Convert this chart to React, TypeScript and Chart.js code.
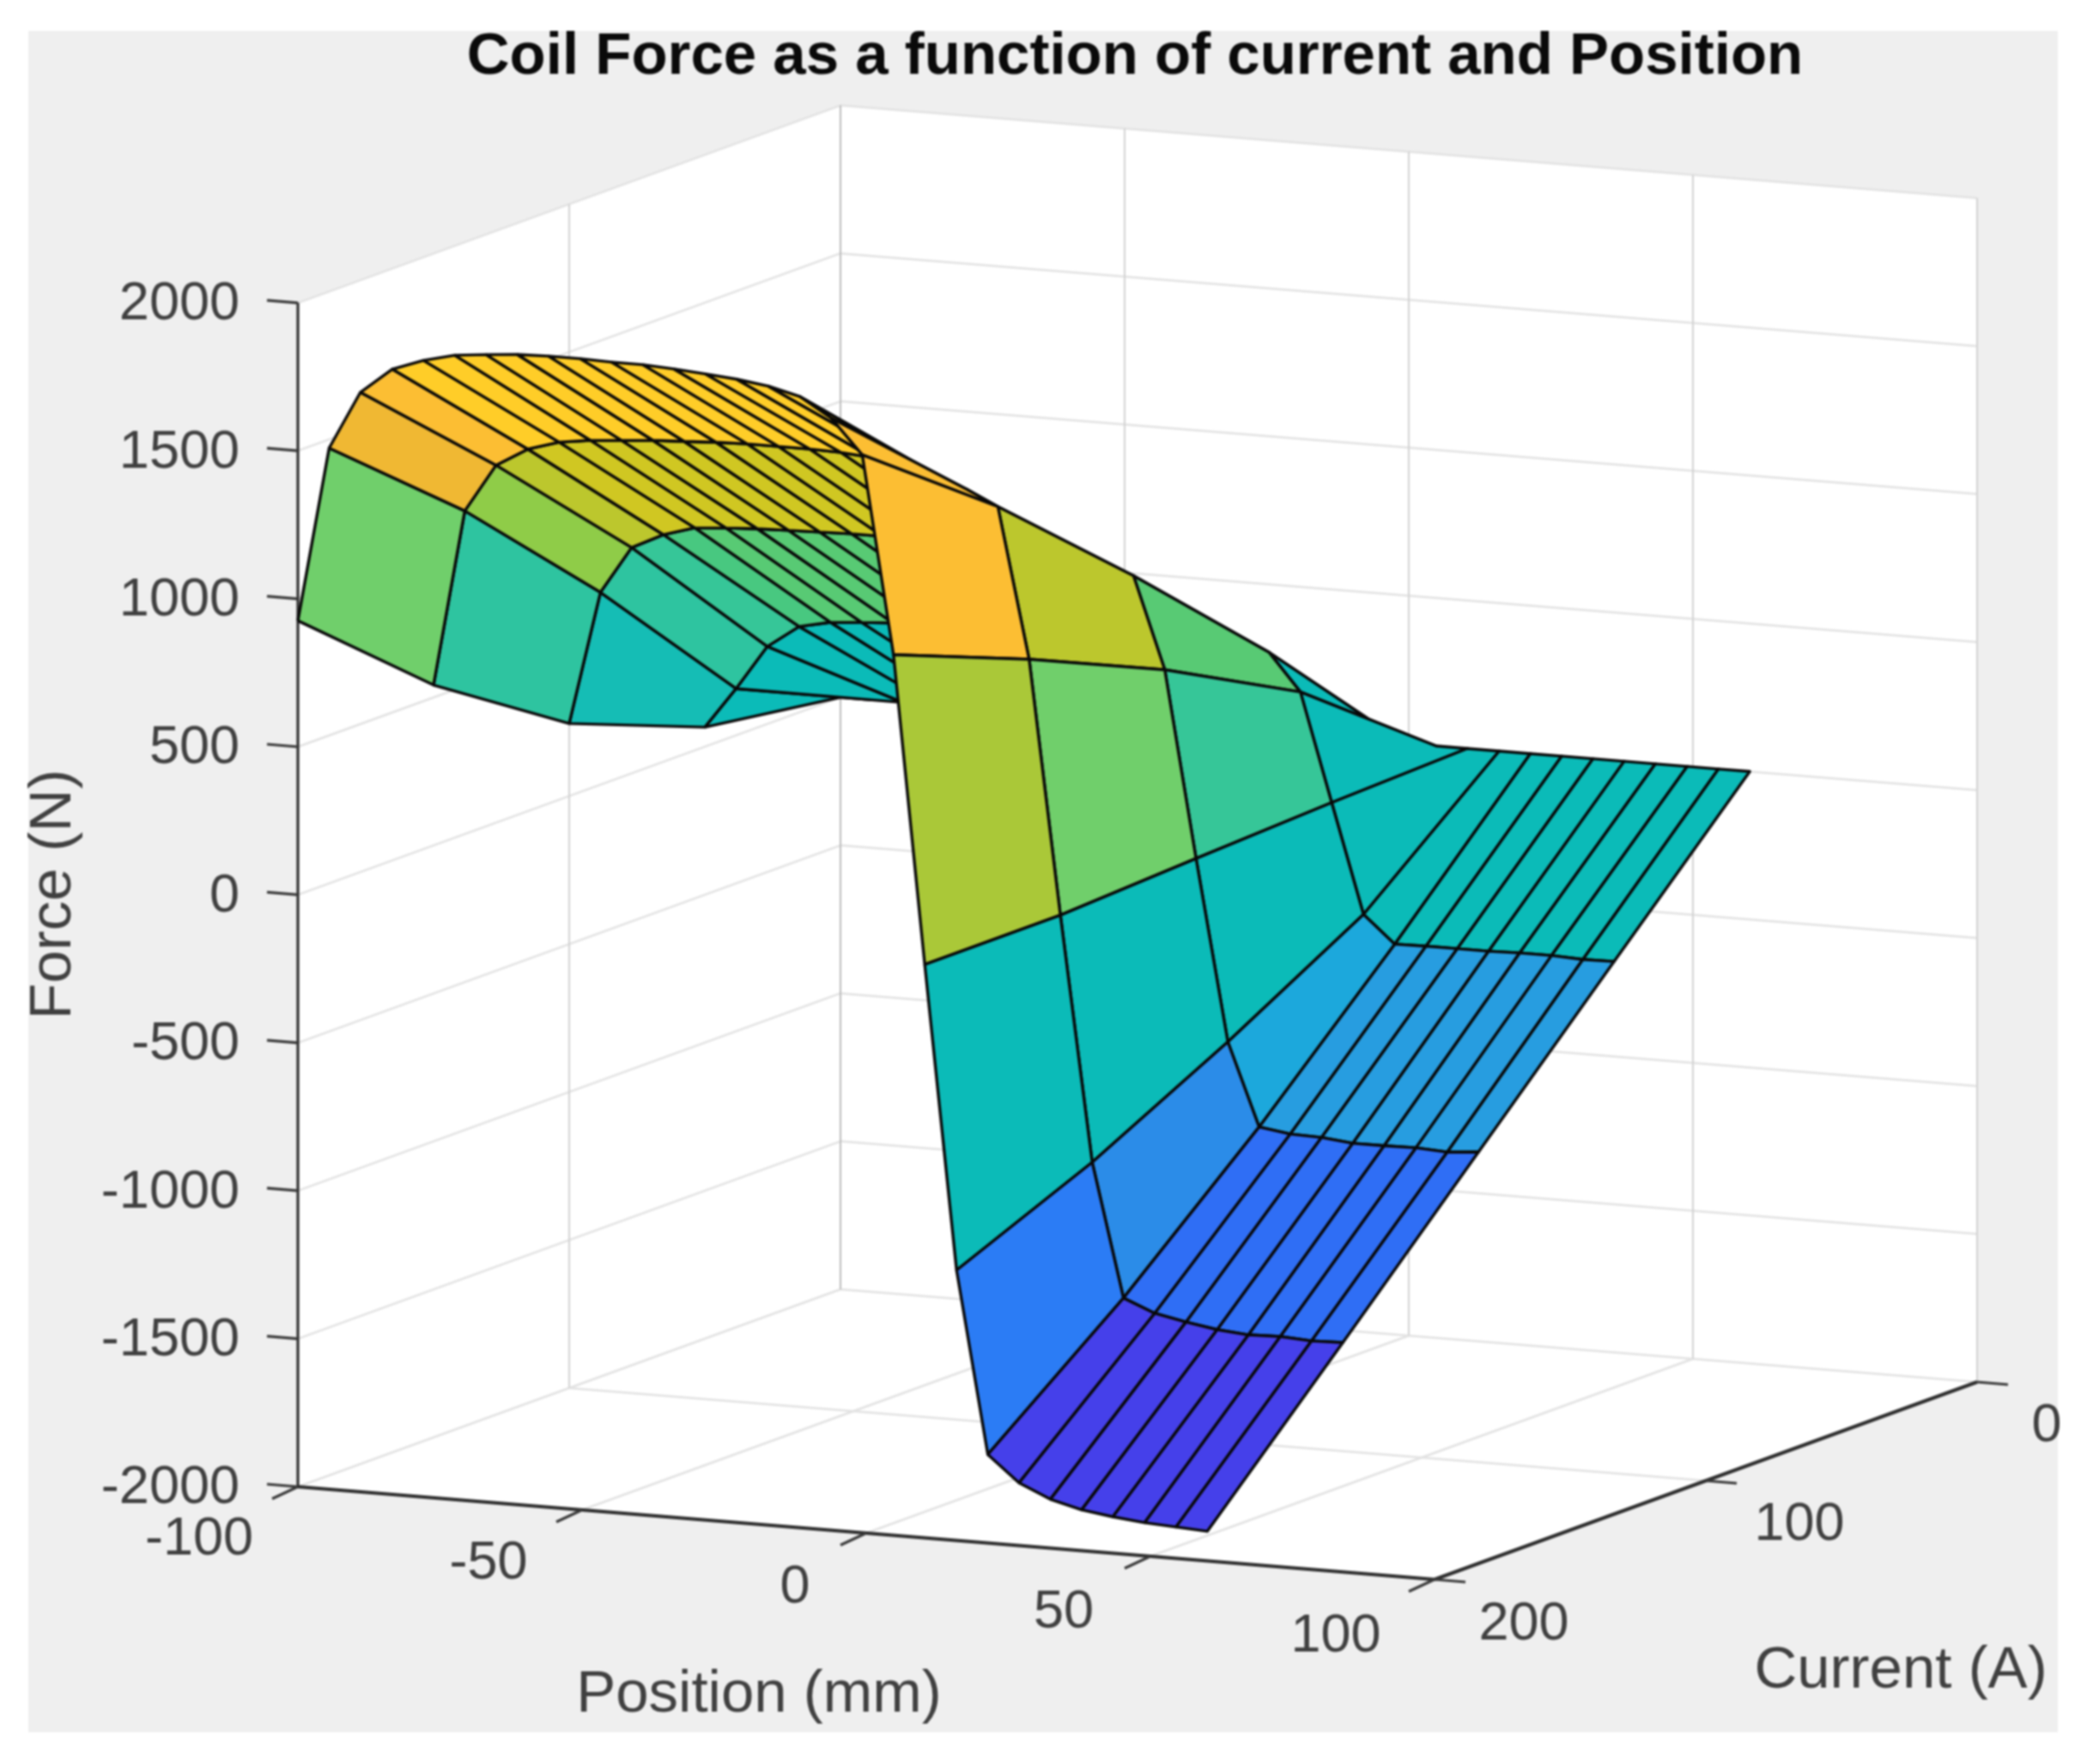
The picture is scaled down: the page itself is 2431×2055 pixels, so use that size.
import React, { useEffect, useRef } from "react";
import { Chart, registerables } from "chart.js";

Chart.register(...registerables);

const titleText = "Coil Force as a function of current and Position";
const positionLabel = "Position (mm)";
const currentLabel = "Current (A)";
const forceLabel = "Force (N)";

const positionTicks = [-100, -50, 0, 50, 100];
const currentTicks = [200, 100, 0];
const forceTicks = [2000, 1500, 1000, 500, 0, -500, -1000, -1500, -2000];

const positions = [
  -100, -94.5, -89, -83.4, -77.9, -72.4, -66.9, -61.4, -55.9, -50.3, -44.8, -39.3, -33.8, -28.3, -22.8,
  -17.2, -11.7, -6.2, -0.7, 4.8, 10.3, 15.9, 21.4, 26.9, 32.4, 37.9, 43.4, 49, 54.5, 60,
];
const currents = [200, 150, 100, 50, 0];

const forceAt200 = [
  926, 1518, 1715, 1802, 1840, 1866, 1877, 1886, 1889, 1889, 1886, 1886, 1880, 1872, 1863,
  1848, 1822, 1758, 1642, 975, -63, -1087, -1701, -1788, -1835, -1862, -1877, -1888, -1894, -1900,
];
const forceAt150 = [
  542, 1139, 1302, 1365, 1397, 1412, 1420, 1429, 1434, 1440, 1443, 1443, 1443, 1440, 1431,
  1419, 1393, 1350, 1300, 793, -63, -889, -1339, -1382, -1403, -1420, -1429, -1426, -1432, -1429,
];
const forceAt100 = [
  245, 697, 857, 909, 941, 949, 955, 958, 961, 964, 964, 964, 964, 960, 955,
  950, 940, 925, 900, 591, -38, -649, -928, -943, -946, -957, -957, -955, -961, -952,
];
const forceAt50 = [
  66, 205, 356, 432, 455, 463, 470, 475, 478, 480, 480, 480, 480, 480, 480,
  480, 480, 478, 474, 349, -16, -385, -477, -475, -475, -475, -472, -472, -477, -475,
];
const forceAt0 = [
  0, 0, 0, 0, 0, 0, 0, 0, 0, 0, 0, 0, 0, 0, 0,
  0, 0, 0, 0, 0, 0, 0, 0, 0, 0, 0, 0, 0, 0, 0,
];
const forceRows = [forceAt200, forceAt150, forceAt100, forceAt50, forceAt0];

const colorForces = [-1430, -950, -890, -650, -475, -385, -16, 66, 245, 356, 432, 474, 591, 697, 793, 857, 960, 1139, 1300, 1420];
const colorValues = [
  "#4540EA", "#2F6EF5", "#2B7CF5", "#2B8CE8", "#279DE0", "#1CA8DC", "#0BBBB8", "#15BDB5", "#2EC4A0",
  "#36C698", "#48C880", "#58CA74", "#70CF6B", "#8FCC48", "#AAC838", "#BCC72D", "#D0C722", "#F0B833", "#FCBE33", "#FFCD28",
];

const W = 2431;
const H = 2055;

// Orthographic view of the MATLAB axes box
function project(p: number, c: number, z: number) {
  return {
    x: 347 + 6.62 * (p + 100) + 3.16 * (200 - c),
    y: 1732 + 0.54 * (p + 100) - 1.15 * (200 - c) - 0.3448 * (z + 2000),
  };
}

function colorOf(z: number) {
  let best = 0;
  for (let k = 0; k < colorForces.length; k++) {
    if (Math.abs(colorForces[k] - z) < Math.abs(colorForces[best] - z)) best = k;
  }
  return colorValues[best];
}

type Item = { data: { x: number; y: number }[]; color?: string; width: number; fill?: string };

function buildItems(): Item[] {
  const items: Item[] = [];
  const zMin = -2000;
  const zMax = 2000;
  const pMin = positionTicks[0];
  const pMax = positionTicks[positionTicks.length - 1];
  const cMin = 0;
  const cMax = 200;
  const noBorder = "rgba(0,0,0,0)";

  // white box walls
  items.push({
    data: [project(pMin, cMax, zMax), project(pMin, cMin, zMax), project(pMin, cMin, zMin), project(pMin, cMax, zMin), project(pMin, cMax, zMax)],
    fill: "#FFFFFF",
    color: noBorder,
    width: 0,
  });
  items.push({
    data: [project(pMin, cMin, zMax), project(pMax, cMin, zMax), project(pMax, cMin, zMin), project(pMin, cMin, zMin), project(pMin, cMin, zMax)],
    fill: "#FFFFFF",
    color: noBorder,
    width: 0,
  });
  items.push({
    data: [project(pMin, cMax, zMin), project(pMin, cMin, zMin), project(pMax, cMin, zMin), project(pMax, cMax, zMin), project(pMin, cMax, zMin)],
    fill: "#FFFFFF",
    color: noBorder,
    width: 0,
  });

  // grid
  const grid = "#E2E2E2";
  const vgrid = "#D2D2D2";
  for (const z of forceTicks) {
    items.push({ data: [project(pMin, cMax, z), project(pMin, cMin, z), project(pMax, cMin, z)], color: grid, width: 2.5 });
  }
  for (const p of positionTicks) {
    items.push({ data: [project(p, cMin, zMin), project(p, cMin, zMax)], color: p === pMin ? "#BDBDBD" : vgrid, width: 2 });
    if (p !== pMin && p !== pMax) {
      items.push({ data: [project(p, cMin, zMin), project(p, cMax, zMin)], color: grid, width: 2.5 });
    }
  }
  items.push({ data: [project(pMin, 100, zMin), project(pMin, 100, zMax)], color: vgrid, width: 2 });
  items.push({ data: [project(pMin, 100, zMin), project(pMax, 100, zMin)], color: grid, width: 2.5 });

  // axes
  const axis = "#2E2E2E";
  items.push({ data: [project(pMin, cMax, zMin), project(pMin, cMax, zMax)], color: axis, width: 3.2 });
  items.push({ data: [project(pMin, cMax, zMin), project(pMax, cMax, zMin)], color: axis, width: 4 });
  items.push({ data: [project(pMax, cMax, zMin), project(pMax, cMin, zMin)], color: axis, width: 4 });

  // surface, painted from the far corner to the near corner
  for (let r = currents.length - 2; r >= 0; r--) {
    for (let i = 0; i < positions.length - 1; i++) {
      const a = project(positions[i], currents[r], forceRows[r][i]);
      const b = project(positions[i + 1], currents[r], forceRows[r][i + 1]);
      const c = project(positions[i + 1], currents[r + 1], forceRows[r + 1][i + 1]);
      const d = project(positions[i], currents[r + 1], forceRows[r + 1][i]);
      items.push({
        data: [a, b, c, d, a],
        fill: colorOf(forceRows[r + 1][i]),
        color: "#080808",
        width: 3.4,
      });
    }
  }
  return items;
}

const overlay = {
  id: "overlay",
  beforeDraw(chart: Chart) {
    const ctx = chart.ctx;
    ctx.save();
    ctx.fillStyle = "#FFFFFF";
    ctx.fillRect(0, 0, W, H);
    ctx.fillStyle = "#EFEFEF";
    ctx.fillRect(33, 36, 2364, 1982);
    ctx.restore();
  },
  afterDraw(chart: Chart) {
    const ctx = chart.ctx;
    const sx = (v: number) => chart.scales.x.getPixelForValue(v);
    const sy = (v: number) => chart.scales.y.getPixelForValue(v);
    const seg = (x0: number, y0: number, dx: number, dy: number) => {
      ctx.beginPath();
      ctx.moveTo(sx(x0), sy(y0));
      ctx.lineTo(sx(x0 + dx), sy(y0 + dy));
      ctx.stroke();
    };
    ctx.save();
    // tick marks
    ctx.strokeStyle = "#3A3A3A";
    ctx.lineWidth = 3.2;
    for (const z of forceTicks) {
      const q = project(-100, 200, z);
      seg(q.x, q.y, -36, -3);
    }
    for (const p of positionTicks) {
      const q = project(p, 200, -2000);
      seg(q.x, q.y, -30, 14);
    }
    for (const c of currentTicks) {
      const q = project(100, c, -2000);
      seg(q.x, q.y, 36, 3);
    }

    ctx.fillStyle = "#404040";
    ctx.textBaseline = "middle";
    const font = '"Liberation Sans", Arial, sans-serif';
    ctx.font = `63px ${font}`;
    ctx.textAlign = "right";
    for (const z of forceTicks) {
      const q = project(-100, 200, z);
      ctx.fillText(String(z), 279, q.y + 2);
    }
    ctx.textAlign = "center";
    const posXY = [[232, 1794], [569, 1822], [926, 1850], [1239, 1879], [1556, 1907]];
    positionTicks.forEach((p, k) => ctx.fillText(String(p), posXY[k][0], posXY[k][1]));
    const curXY = [[1775, 1893], [2096, 1777], [2384, 1662]];
    currentTicks.forEach((c, k) => ctx.fillText(String(c), curXY[k][0], curXY[k][1]));

    ctx.font = `69px ${font}`;
    ctx.fillText(positionLabel, 884, 1975);
    ctx.fillText(currentLabel, 2214, 1947);
    ctx.save();
    ctx.translate(63, 1042);
    ctx.rotate(-Math.PI / 2);
    ctx.fillText(forceLabel, 0, 0);
    ctx.restore();

    ctx.fillStyle = "#0A0A0A";
    ctx.font = `bold 69px ${font}`;
    ctx.fillText(titleText, 1322, 67);
    ctx.restore();
  },
};

export default function App() {
  const ref = useRef<HTMLCanvasElement>(null);
  useEffect(() => {
    document.body.style.margin = "0";
    const items = buildItems();
    const chart = new Chart(ref.current!, {
      type: "scatter",
      data: {
        datasets: items.map((it, k) => ({
          data: it.data,
          showLine: true,
          tension: 0,
          pointRadius: 0,
          borderColor: it.color,
          borderWidth: it.width,
          borderJoinStyle: "round",
          backgroundColor: it.fill ?? "rgba(0,0,0,0)",
          fill: it.fill ? "shape" : false,
          clip: false,
          order: items.length - k,
        })),
      },
      options: {
        animation: false,
        responsive: false,
        devicePixelRatio: 1,
        layout: { padding: 0 },
        plugins: { legend: { display: false }, tooltip: { enabled: false }, title: { display: false } },
        scales: {
          x: { type: "linear", display: false, min: 0, max: W },
          y: { type: "linear", display: false, min: 0, max: H, reverse: true },
        },
      },
      plugins: [overlay],
    } as any);
    return () => chart.destroy();
  }, []);
  return (
    <div style={{ position: "absolute", left: 0, top: 0, width: W, height: H }}>
      <canvas ref={ref} width={W} height={H} style={{ display: "block", filter: "blur(0.8px)" }} />
    </div>
  );
}
